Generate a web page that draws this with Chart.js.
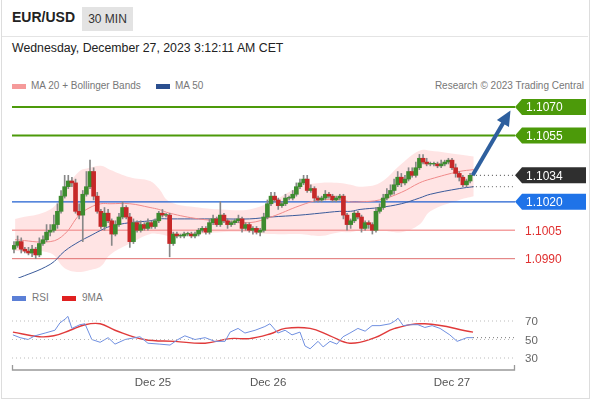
<!DOCTYPE html>
<html><head><meta charset="utf-8">
<script src="https://cdn.jsdelivr.net/npm/chart.js@4"></script>
<style>
body{margin:0;width:590px;height:400px;background:#fff;font-family:Arial,"Liberation Sans",sans-serif;position:relative;overflow:hidden}
.abs{position:absolute}
#frame{left:1px;top:0;width:587px;height:398px;border:1px solid #ddd;border-top:none}
#title{left:12px;top:9px;font-size:14px;font-weight:bold;color:#222}
#tf{left:82px;top:7px;width:51px;height:24px;background:#e3e3e3;font-size:12px;color:#333;line-height:24px;text-align:center}
#sep{left:2px;top:36px;width:586px;height:1px;background:#e4e4e4}
#date{left:12px;top:41px;font-size:12.3px;color:#222}
.leg{font-size:10px;color:#777}
.sw{width:14px;height:5px}
</style></head><body>
<div id="frame" class="abs"></div>
<div id="title" class="abs">EUR/USD</div>
<div id="tf" class="abs">30 MIN</div>
<div id="sep" class="abs"></div>
<div id="date" class="abs">Wednesday, December 27, 2023 3:12:11 AM CET</div>
<div class="abs sw" style="left:12px;top:84px;background:#f59a9a"></div>
<div class="abs leg" style="left:31px;top:80px">MA 20 + Bollinger Bands</div>
<div class="abs sw" style="left:156px;top:84px;background:#2b4f8f"></div>
<div class="abs leg" style="left:175px;top:80px">MA 50</div>
<div class="abs leg" style="right:6px;top:80px">Research © 2023 Trading Central</div>
<div class="abs sw" style="left:12px;top:296px;background:#5b7fd6"></div>
<div class="abs leg" style="left:32px;top:292px">RSI</div>
<div class="abs sw" style="left:62px;top:296px;background:#e02020"></div>
<div class="abs leg" style="left:82px;top:292px">9MA</div>
<canvas id="main" class="abs" style="left:0;top:90px" width="590" height="195"></canvas>
<canvas id="rsi" class="abs" style="left:0;top:300px" width="590" height="95"></canvas>
<script>
const closes=[1.0997,1.0999,1.0995,1.0994,1.0993,1.0995,1.0992,1.0998,1.1000,1.1004,
1.1005,1.1008,1.1015,1.1023,1.1028,1.1031,1.1030,1.1015,1.1013,1.1024,
1.1028,1.1036,1.1023,1.1015,1.1007,1.1014,1.1010,1.1003,1.1008,1.1012,
1.1017,1.1012,1.0999,1.1009,1.1005,1.1008,1.1006,1.1009,1.1007,1.1010,
1.1014,1.1013,1.1013,1.0998,1.1003,1.1002,1.1002,1.1003,1.1003,1.1002,
1.1003,1.1005,1.1006,1.1004,1.1009,1.1011,1.1008,1.1013,1.1010,1.1008,
1.1009,1.1010,1.1011,1.1006,1.1008,1.1005,1.1006,1.1004,1.1005,1.1012,
1.1019,1.1023,1.1021,1.1018,1.1019,1.1022,1.1022,1.1024,1.1028,1.1030,
1.1032,1.1026,1.1027,1.1022,1.1021,1.1022,1.1024,1.1023,1.1021,1.1022,1.1023,
1.1013,1.1008,1.1010,1.1014,1.1012,1.1006,1.1009,1.1008,1.1005,1.1015,
1.1017,1.1022,1.1024,1.1026,1.1029,1.1033,1.1030,1.1032,1.1036,1.1034,
1.1038,1.1043,1.1041,1.1040,1.1040,1.1040,1.1039,1.1040,1.1041,1.1042,
1.1038,1.1035,1.1033,1.1029,1.1031,1.1034];
const firstOpen=1.0995;
const upWick=[2,3,2,1,2,2,1,3,2,4, 3,5,4,3,6,3,2,2,4,2, 8,6,2,2,1,3,2,1,2,2, 3,1,2,2,1,2,1,2,1,1,
1,2,1,1,1,1,1,1,1,1, 1,1,1,1,2,2,1,7,1,1, 1,1,2,1,1,1,1,1,1,2, 2,2,2,1,1,2,1,2,2,2,
2,2,2,1,1,1,2,1,1,1,1, 1,1,1,1,1,1,1,1,1,2, 2,2,3,3,3,3,2,2,2,2, 3,2,2,2,1,1,1,2,1,1, 1,2,1,1,1,1];
const dnWick=[2,1,2,1,1,2,2,1,1,1, 2,1,2,1,1,1,2,1,2,14, 1,1,2,1,1,2,1,6,1,1, 1,1,3,1,1,1,1,1,1,1,
1,1,1,7,1,1,1,1,1,1, 1,1,1,1,1,1,1,1,1,2, 1,1,1,2,1,1,2,1,2,1, 1,1,1,2,1,1,1,1,1,1,
1,1,1,2,1,1,1,1,1,1,1, 2,3,2,1,1,2,1,2,2,1, 1,1,1,1,2,1,2,1,1,1, 1,1,1,1,1,1,1,1,1,1, 1,2,2,1,1,1];
const bandIdx=[0.3,10,14,18,21,24,26.5,32,37.6,40,43,51,57,65,71,79,84.5,90,93,95.6,101,107,112,115,123,127];
const bbUpper=[1.1011,1.1016,1.1026,1.1036,1.1038,1.1039,1.1037,1.1033,1.1031,1.1027,1.1020,1.1017,1.1016,1.1016,1.1020,1.1028,1.1030,1.1030,1.1029,1.1028,1.1030,1.1040,1.1047,1.1047,1.1045,1.1044];
const bbLower=[1.0994,1.0993,1.0985,1.0983,1.0984,1.0986,1.0992,1.0998,1.1003,1.1003,1.1002,1.1003,1.1004,1.1004,1.1003,1.1003,1.1002,1.1004,1.1004,1.1005,1.1005,1.1004,1.1008,1.1015,1.1021,1.1023];
const ma20=[1.1000,1.0999,1.1003,1.1013,1.1017,1.1019,1.1019,1.1019,1.1017,1.1016,1.1014,1.1011,1.1010,1.1009,1.1012,1.1018,1.1021,1.1021,1.1020,1.1020,1.1021,1.1025,1.1030,1.1032,1.1036,1.1037];
const ma50=[1.0979,1.0987,1.0994,1.0999,1.1002,1.1005,1.1007,1.1009,1.1010,1.1011,1.1011,1.1011,1.1011,1.1011,1.1012,1.1013,1.1014,1.1015,1.1015,1.1016,1.1017,1.1019,1.1022,1.1024,1.1027,1.1028];
const levels=[1.1070,1.1055,1.1034,1.1020,1.1005,1.0990];
const rsiIdx=[-0.3,1.7,3.9,5.8,8.6,11.3,12.7,14.1,14.9,16,18.2,19.6,21.5,23.8,26,27.9,30.7,34.8,37,40.3,43.1,45.3,47.2,50,52.8,55.5,58.3,59.7,61.9,63.8,66.6,69.3,70.7,72.9,74.9,76.8,79,80.4,81.8,84,85.4,87.3,89.2,90.9,92.8,95,97,98.9,101.1,103.9,105.2,106.1,107.5,109.4,111.6,113.5,115.5,117.7,120.4,122.4,123.8,125.1,126.8];
const rsiVal=[55,52,50,54,57,60,68,72,75,62,66,67,50,47,52,45,50,53,46,45,44,50,54,50,52,48,48,58,62,57,60,64,67,57,60,55,58,43,40,48,42,48,45,53,57,62,59,65,65,67,70,73,65,66,66,63,65,62,55,48,50,52,52];
const maIdx=[-0.3,7,11,15.5,19.6,23.8,27.9,36,44.5,52.8,59.7,65,70.7,74.9,81.8,87.3,92.8,99.7,105.2,113.5,126.8];
const maVal=[58,53,54,60,66,67,60,50,48,46,51,51,56,62,62,54,46,52,62,67,58];
const rsiLevels=[70,50,30];
const dateTicks=[[38.4,'Dec 25'],[70.2,'Dec 26'],[121,'Dec 27']];
const lastRsi=52;
const arrowEnd={x:135.9,y:1.10641};

const XMIN=-0.55,XMAX=138.4;
const opens=closes.map((c,i)=>i?closes[i-1]:firstOpen);
const bodies=closes.map((c,i)=>({x:i,y:[opens[i],c===opens[i]?c+0.00003:c]}));
const wicks=closes.map((c,i)=>({x:i,y:[Math.min(opens[i],c)-dnWick[i]*1e-4,Math.max(opens[i],c)+upWick[i]*1e-4]}));
const bcol=closes.map((c,i)=>c>=opens[i]?'#3d8b2f':'#c62828');
const pts=(xs,ys)=>xs.map((x,i)=>({x,y:ys[i]}));
const hl=(v,a,b)=>[{x:a,y:v},{x:b,y:v}];
const N=closes.length;
const lvlStyle=[['#4c9a0a',2],['#4c9a0a',2],null,['#1f5fd0',1.3],['#f4a0a0',1.3],['#e07070',1]];
const ds=[];
ds.push({type:'line',data:pts(bandIdx,bbUpper),borderWidth:0,pointRadius:0,tension:0.4,fill:'+1',backgroundColor:'rgba(255,190,190,0.42)',order:10});
ds.push({type:'line',data:pts(bandIdx,bbLower),borderWidth:0,pointRadius:0,tension:0.4,fill:false,order:10});
levels.forEach((v,i)=>{if(lvlStyle[i])ds.push({type:'line',data:hl(v,XMIN,XMAX),borderColor:lvlStyle[i][0],borderWidth:lvlStyle[i][1],pointRadius:0,order:9});});
ds.push({type:'line',data:pts(bandIdx,ma20),borderColor:'#f08a8a',borderWidth:1,pointRadius:0,tension:0.4,order:8});
ds.push({type:'line',data:pts(bandIdx,ma50),borderColor:'#3a5a9a',borderWidth:1,pointRadius:0,tension:0.4,order:8});
ds.push({type:'line',data:hl(closes[N-1],N-0.5,XMAX),borderColor:'#444',borderWidth:1,borderDash:[1,3],pointRadius:0,order:7});
ds.push({type:'line',data:hl(ma50[ma50.length-1],N-0.5,XMAX),borderColor:'#666',borderWidth:1,borderDash:[1,3],pointRadius:0,order:7});
ds.push({type:'bar',data:wicks,backgroundColor:'#888',barThickness:1,grouped:false,order:6});
ds.push({type:'bar',data:bodies,backgroundColor:bcol,barThickness:4,grouped:false,order:5});
ds.push({type:'line',data:[{x:N-0.3,y:closes[N-1]},arrowEnd],borderColor:'#2e5f9e',borderWidth:4,pointRadius:0,order:1});

function tag(ctx,x,y,w,h,bg,txt,fg){
  ctx.fillStyle=bg;ctx.beginPath();ctx.moveTo(x,y);ctx.lineTo(x+7,y-h/2);ctx.lineTo(x+w,y-h/2);ctx.lineTo(x+w,y+h/2);ctx.lineTo(x+7,y+h/2);ctx.closePath();ctx.fill();
  ctx.fillStyle=fg;ctx.font='12px Arial, "Liberation Sans"';ctx.textBaseline='middle';ctx.fillText(txt,x+11,y+1);
}
const mainPlugin={id:'mp',afterDraw(c){
  const ctx=c.ctx,ys=c.scales.y,xs=c.scales.x;
  const boxes=[['#4c9a0a','#fff'],['#4c9a0a','#fff'],['#2f2f2f','#fff'],['#1f73e8','#fff'],null,null];
  levels.forEach((v,i)=>{const y=ys.getPixelForValue(v);
    if(boxes[i])tag(ctx,515,y,71,16,boxes[i][0],v.toFixed(4),boxes[i][1]);
    else{ctx.fillStyle='#e03030';ctx.font='12px Arial, "Liberation Sans"';ctx.textBaseline='middle';ctx.fillText(v.toFixed(4),525,y+1);}
  });
  const x1=xs.getPixelForValue(N-0.3),y1=ys.getPixelForValue(closes[N-1]);
  const x2=xs.getPixelForValue(arrowEnd.x),y2=ys.getPixelForValue(arrowEnd.y);
  const a=Math.atan2(y2-y1,x2-x1),ca=Math.cos(a),sa=Math.sin(a);ctx.fillStyle='#2e5f9e';ctx.beginPath();
  const tx=x2+9*ca,ty=y2+9*sa;
  ctx.moveTo(tx,ty);ctx.lineTo(tx-15*ca+7*sa,ty-15*sa-7*ca);
  ctx.lineTo(tx-15*ca-7*sa,ty-15*sa+7*ca);ctx.closePath();ctx.fill();
}};
new Chart(document.getElementById('main'),{data:{datasets:ds},plugins:[mainPlugin],
 options:{responsive:false,animation:false,devicePixelRatio:1,layout:{padding:{left:12,right:75,top:5,bottom:7}},
 plugins:{legend:{display:false},tooltip:{enabled:false}},
 scales:{x:{type:'linear',min:XMIN,max:XMAX,display:false,offset:false},y:{min:1.09798,max:1.10764,display:false}}}});

const rsiPlugin={id:'rp',afterDraw(c){
  const ctx=c.ctx,ys=c.scales.y,xs=c.scales.x;
  ctx.font='11.5px Arial, "Liberation Sans"';ctx.fillStyle='#666';ctx.textBaseline='middle';
  rsiLevels.forEach(v=>ctx.fillText(String(v),525,ys.getPixelForValue(v)+1));
  const by=70;ctx.strokeStyle='#999';ctx.lineWidth=1.3;ctx.beginPath();
  ctx.moveTo(12.5,by-5);ctx.lineTo(12.5,by);ctx.lineTo(514.5,by);ctx.lineTo(514.5,by-5);ctx.stroke();
  ctx.fillStyle='#555';ctx.textAlign='center';
  dateTicks.forEach(([i,t])=>ctx.fillText(t,xs.getPixelForValue(i),83));
}};
const rds=[];
rsiLevels.forEach(v=>rds.push({data:hl(v,XMIN,XMAX),borderColor:'#bbb',borderWidth:1,borderDash:[1,3],pointRadius:0}));
rds.push({data:hl(lastRsi,rsiIdx[rsiIdx.length-1],XMAX),borderColor:'#777',borderWidth:1,borderDash:[1,3],pointRadius:0});
rds.push({data:pts(rsiIdx,rsiVal),borderColor:'#6f8fe0',borderWidth:1,pointRadius:0});
rds.push({data:pts(maIdx,maVal),borderColor:'#e03a3a',borderWidth:1.4,pointRadius:0,tension:0.4});
new Chart(document.getElementById('rsi'),{type:'line',data:{datasets:rds},plugins:[rsiPlugin],
 options:{responsive:false,animation:false,devicePixelRatio:1,layout:{padding:{left:12,right:75,top:10,bottom:27}},
 plugins:{legend:{display:false},tooltip:{enabled:false}},
 scales:{x:{type:'linear',min:XMIN,max:XMAX,display:false},y:{min:19.2,max:81.9,display:false}}}});
</script></body></html>
